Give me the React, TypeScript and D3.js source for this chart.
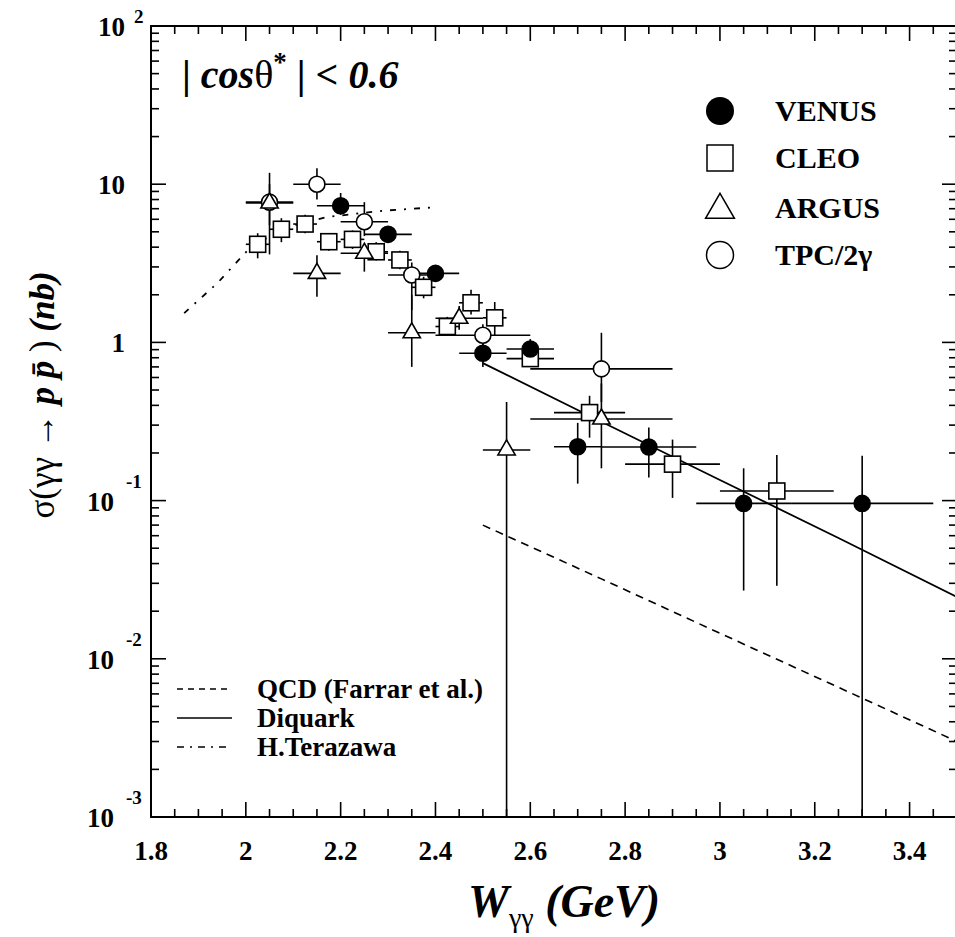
import * as d3 from "d3";
import { useEffect, useRef } from "react";

const W = 955;
const H = 937;
const frame = { left: 151, top: 26, right: 957, bottom: 817 };
const serif = "'Liberation Serif', 'Times New Roman', serif";

// [W, sigma, W low, W high, sigma low, sigma high]
const venus = [
  [2.2, 7.3, 2.15, 2.25, 6.4, 8.8],
  [2.3, 4.82, 2.25, 2.35, 4.3, 5.4],
  [2.4, 2.73, 2.35, 2.45, 2.45, 3.05],
  [2.5, 0.853, 2.45, 2.55, 0.7, 0.98],
  [2.6, 0.908, 2.55, 2.65, 0.75, 1.05],
  [2.7, 0.219, 2.65, 2.75, 0.128, 0.31],
  [2.85, 0.218, 2.75, 2.95, 0.14, 0.29],
  [3.05, 0.096, 2.95, 3.15, 0.027, 0.16],
  [3.3, 0.096, 3.15, 3.45, 0.0001, 0.192],
];
const cleo = [
  [2.025, 4.17, 2.0, 2.05, 3.4, 4.9],
  [2.075, 5.19, 2.05, 2.1, 4.3, 6.1],
  [2.125, 5.6, 2.1, 2.15, 4.9, 6.4],
  [2.175, 4.33, 2.15, 2.2, 3.8, 4.9],
  [2.225, 4.48, 2.2, 2.25, 3.9, 5.1],
  [2.275, 3.74, 2.25, 2.3, 3.3, 4.3],
  [2.325, 3.32, 2.3, 2.35, 2.9, 3.8],
  [2.375, 2.23, 2.35, 2.4, 1.9, 2.6],
  [2.425, 1.26, 2.4, 2.45, 1.1, 1.45],
  [2.475, 1.78, 2.45, 2.5, 1.5, 2.15],
  [2.525, 1.43, 2.5, 2.55, 1.1, 1.8],
  [2.6, 0.79, 2.55, 2.65, 0.7, 0.9],
  [2.725, 0.36, 2.65, 2.8, 0.25, 0.46],
  [2.9, 0.17, 2.8, 3.0, 0.104, 0.243],
  [3.12, 0.115, 3.0, 3.24, 0.029, 0.194],
];
const argus = [
  [2.05, 7.6, 2.0, 2.1, 3.6, 11.8],
  [2.15, 2.73, 2.1, 2.2, 1.94, 3.55],
  [2.25, 3.66, 2.2, 2.3, 2.8, 4.0],
  [2.35, 1.15, 2.3, 2.4, 0.7, 2.0],
  [2.45, 1.42, 2.4, 2.5, 1.2, 1.7],
  [2.55, 0.209, 2.5, 2.6, 0.0001, 0.42],
  [2.75, 0.328, 2.6, 2.9, 0.16, 0.55],
];
const tpc = [
  [2.05, 7.7, 2.0, 2.1, 5.5, 10.0],
  [2.15, 10.0, 2.1, 2.2, 8.0, 12.6],
  [2.25, 5.79, 2.2, 2.3, 4.7, 7.7],
  [2.35, 2.67, 2.3, 2.4, 1.6, 3.2],
  [2.5, 1.11, 2.4, 2.6, 0.95, 1.3],
  [2.75, 0.68, 2.6, 2.9, 0.42, 1.15],
];

// theory curves [W, sigma]
const qcd = [[2.5, 0.07], [2.75, 0.032], [3.0, 0.0145], [3.25, 0.0066], [3.5, 0.003]];
const diquark = [[2.5, 0.74], [2.75, 0.315], [3.0, 0.135], [3.25, 0.058], [3.5, 0.0246]];
const terazawa = [[1.87, 1.53], [1.94, 2.37], [2.01, 4.0], [2.08, 5.26], [2.17, 6.2], [2.29, 6.8], [2.4, 7.15]];

const xTickLabels = ["1.8", "2", "2.2", "2.4", "2.6", "2.8", "3", "3.2", "3.4"];
const yDecades = [2, 1, 0, -1, -2, -3];
const legendNames = ["VENUS", "CLEO", "ARGUS", "TPC/2γ"];
const curveNames = ["QCD (Farrar et al.)", "Diquark", "H.Terazawa"];

const App = () => {
  const ref = useRef(null);

  useEffect(() => {
    const svg = d3.select(ref.current);
    svg.selectAll("*").remove();

    const x = d3.scaleLinear().domain([1.8, 3.5]).range([frame.left, frame.right]);
    const y = d3.scaleLog().domain([1e-3, 1e2]).range([frame.bottom, frame.top]);

    svg.append("rect").attr("width", W).attr("height", H).attr("fill", "white");

    svg.append("defs").append("clipPath").attr("id", "plotclip")
      .append("rect")
      .attr("x", frame.left).attr("y", frame.top)
      .attr("width", frame.right - frame.left).attr("height", frame.bottom - frame.top);

    // ticks
    const axes = svg.append("g").attr("stroke", "black").attr("stroke-width", 1.6);
    for (let i = 0; i <= 34; i++) {
      const v = 1.8 + i * 0.05;
      const major = i % 4 === 0;
      const len = major ? 15 : 8;
      axes.append("line").attr("x1", x(v)).attr("x2", x(v))
        .attr("y1", frame.bottom).attr("y2", frame.bottom - len);
      axes.append("line").attr("x1", x(v)).attr("x2", x(v))
        .attr("y1", frame.top).attr("y2", frame.top + len);
    }
    for (let k = -3; k <= 1; k++) {
      for (let m = 1; m <= 9; m++) {
        const v = m * Math.pow(10, k);
        const len = m === 1 ? 15 : 8;
        axes.append("line").attr("x1", frame.left).attr("x2", frame.left + len)
          .attr("y1", y(v)).attr("y2", y(v));
        axes.append("line").attr("x1", frame.right).attr("x2", frame.right - len)
          .attr("y1", y(v)).attr("y2", y(v));
      }
    }
    axes.append("rect")
      .attr("x", frame.left).attr("y", frame.top)
      .attr("width", frame.right - frame.left).attr("height", frame.bottom - frame.top)
      .attr("fill", "none").attr("stroke-width", 2);

    // tick labels
    xTickLabels.forEach((t) => {
      svg.append("text").attr("x", x(+t)).attr("y", 860)
        .attr("text-anchor", "middle").attr("font-family", serif)
        .attr("font-weight", "bold").attr("font-size", 27).text(t);
    });
    yDecades.forEach((e) => {
      const yy = y(Math.pow(10, e));
      const g = svg.append("g").attr("font-family", serif).attr("font-weight", "bold");
      if (e === 0) {
        g.append("text").attr("x", 125).attr("y", yy + 10).attr("text-anchor", "end")
          .attr("font-size", 27).text("1");
      } else if (e > 0) {
        g.append("text").attr("x", 125).attr("y", yy + 10).attr("text-anchor", "end")
          .attr("font-size", 27).text("10");
        if (e === 2) {
          g.append("text").attr("x", 134).attr("y", yy - 3).attr("font-size", 19).text("2");
        }
      } else {
        g.append("text").attr("x", 114).attr("y", yy + 10).attr("text-anchor", "end")
          .attr("font-size", 27).text("10");
        g.append("text").attr("x", 126).attr("y", yy - 13).attr("font-size", 19).text(String(e));
      }
    });

    const plot = svg.append("g").attr("clip-path", "url(#plotclip)");

    // theory curves
    const line = d3.line().x((d) => x(d[0])).y((d) => y(d[1]));
    plot.append("path").datum(qcd).attr("d", line).attr("fill", "none")
      .attr("stroke", "black").attr("stroke-width", 1.6).attr("stroke-dasharray", "8,6");
    plot.append("path").datum(diquark).attr("d", line).attr("fill", "none")
      .attr("stroke", "black").attr("stroke-width", 1.8);
    plot.append("path").datum(terazawa).attr("d", line).attr("fill", "none")
      .attr("stroke", "black").attr("stroke-width", 1.8).attr("stroke-dasharray", "6,8,2,8");

    // error bars
    const errs = plot.append("g").attr("stroke", "black").attr("stroke-width", 1.6);
    [venus, cleo, argus, tpc].forEach((set) => {
      set.forEach((d) => {
        errs.append("line").attr("x1", x(d[2])).attr("x2", x(d[3]))
          .attr("y1", y(d[1])).attr("y2", y(d[1]));
        errs.append("line").attr("x1", x(d[0])).attr("x2", x(d[0]))
          .attr("y1", y(d[4])).attr("y2", y(d[5]));
      });
    });

    // markers
    const marks = plot.append("g").attr("stroke", "black").attr("stroke-width", 1.6);
    const tri = d3.symbol().type(d3.symbolTriangle).size(130);
    tpc.forEach((d) => {
      marks.append("circle").attr("cx", x(d[0])).attr("cy", y(d[1])).attr("r", 8).attr("fill", "white");
    });
    cleo.forEach((d) => {
      marks.append("rect").attr("x", x(d[0]) - 8).attr("y", y(d[1]) - 8)
        .attr("width", 16).attr("height", 16).attr("fill", "white");
    });
    argus.forEach((d) => {
      marks.append("path").attr("d", tri)
        .attr("transform", `translate(${x(d[0])},${y(d[1])})`).attr("fill", "white");
    });
    venus.forEach((d) => {
      marks.append("circle").attr("cx", x(d[0])).attr("cy", y(d[1])).attr("r", 8).attr("fill", "black");
    });

    // top-right legend
    const lg = svg.append("g").attr("font-family", serif).attr("font-weight", "bold").attr("font-size", 30);
    const ly = [111, 158, 208, 255];
    lg.append("circle").attr("cx", 720).attr("cy", ly[0]).attr("r", 14).attr("fill", "black");
    lg.append("rect").attr("x", 707).attr("y", ly[1] - 13).attr("width", 26).attr("height", 26)
      .attr("fill", "white").attr("stroke", "black").attr("stroke-width", 1.5);
    lg.append("path").attr("d", d3.symbol().type(d3.symbolTriangle).size(360))
      .attr("transform", `translate(720,${ly[2] + 2})`)
      .attr("fill", "white").attr("stroke", "black").attr("stroke-width", 1.5);
    lg.append("circle").attr("cx", 720).attr("cy", ly[3]).attr("r", 13.5)
      .attr("fill", "white").attr("stroke", "black").attr("stroke-width", 1.5);
    legendNames.forEach((n, i) => {
      lg.append("text").attr("x", 775).attr("y", ly[i] + 10).text(n);
    });

    // bottom-left legend
    const cl = [689, 718, 747];
    const dashes = ["6,5", null, "7,6,2,6"];
    curveNames.forEach((n, i) => {
      const l = svg.append("line").attr("x1", 177).attr("x2", 232).attr("y1", cl[i]).attr("y2", cl[i])
        .attr("stroke", "black").attr("stroke-width", 1.6);
      if (dashes[i]) l.attr("stroke-dasharray", dashes[i]);
      svg.append("text").attr("x", 257).attr("y", cl[i] + 9).attr("font-family", serif)
        .attr("font-weight", "bold").attr("font-size", 27).text(n);
    });

    // cos theta label
    const ct = svg.append("text").attr("x", 182).attr("y", 88).attr("font-family", serif)
      .attr("font-weight", "bold").attr("font-size", 40);
    ct.append("tspan").text("| ");
    ct.append("tspan").attr("font-style", "italic").text("cos");
    ct.append("tspan").attr("font-weight", "normal").text("θ");
    ct.append("tspan").attr("dy", -17).attr("font-size", 27).text("*");
    ct.append("tspan").attr("dy", 17).text(" | < ");
    ct.append("tspan").attr("font-style", "italic").text("0.6");

    // x title
    const xt = svg.append("text").attr("x", 468).attr("y", 917).attr("font-family", serif)
      .attr("font-weight", "bold").attr("font-style", "italic").attr("font-size", 46);
    xt.append("tspan").text("W");
    xt.append("tspan").attr("dy", 10).attr("font-size", 28).attr("font-weight", "normal")
      .attr("font-style", "normal").text("γγ");
    xt.append("tspan").attr("dy", -10).text(" (GeV)");

    // y title
    const yt = svg.append("text").attr("transform", "translate(54,395) rotate(-90)")
      .attr("text-anchor", "middle").attr("font-family", serif).attr("font-size", 35);
    yt.append("tspan").text("σ(γγ → ");
    yt.append("tspan").attr("font-weight", "bold").attr("font-style", "italic").text("p p\u0304");
    yt.append("tspan").text(" ) ");
    yt.append("tspan").attr("font-weight", "bold").attr("font-style", "italic").text("(nb)");
  }, []);

  return (
    <svg ref={ref} width={W} height={H} style={{ position: "absolute", left: 0, top: 0 }} />
  );
};

export default App;
